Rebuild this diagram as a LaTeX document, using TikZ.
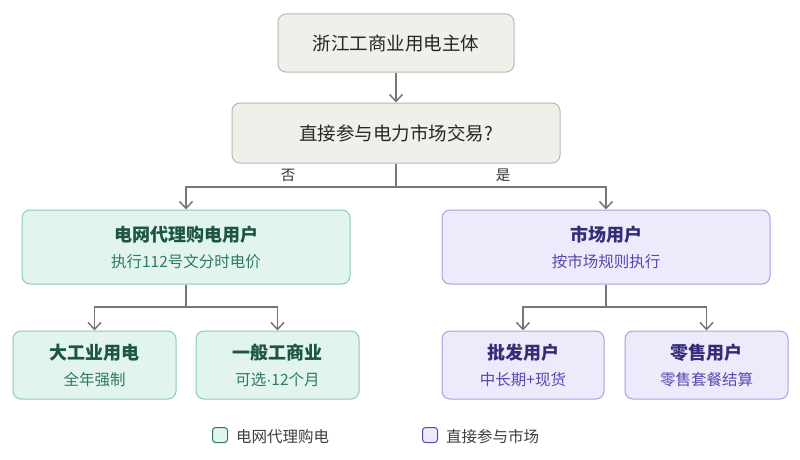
\documentclass[tikz,border=0pt]{standalone}
\usepackage{fontspec}
\setmainfont{Noto Sans CJK SC}
\newfontfamily\dotfont{Liberation Sans}
\usetikzlibrary{arrows.meta}
\definecolor{beigefill}{HTML}{F1EFE9}
\definecolor{beigeline}{HTML}{BDB8AF}
\definecolor{gridfill}{HTML}{E1F4EE}
\definecolor{gridline}{HTML}{8DCBB3}
\definecolor{gridtitle}{HTML}{1D5640}
\definecolor{gridsub}{HTML}{2F7A5E}
\definecolor{mktfill}{HTML}{ECEAFB}
\definecolor{mktline}{HTML}{A8A2E2}
\definecolor{mkttitle}{HTML}{332D78}
\definecolor{mktsub}{HTML}{5549B0}
\definecolor{wire}{HTML}{777777}
\newcommand{\boxtext}[2]{{\fontsize{18}{22}\selectfont\bfseries #1}\\[10pt]{\fontsize{15.5}{18}\selectfont #2}}
\begin{document}
\begin{tikzpicture}[x=1pt,y=-1pt,
  every node/.style={inner sep=0pt,align=center},
  askbox/.style={rectangle,rounded corners=8pt,draw=beigeline,fill=beigefill,line width=1pt,text=black!85,font=\fontsize{18.5}{22}\selectfont},
  gridbox/.style={rectangle,rounded corners=8pt,draw=gridline,fill=gridfill,line width=1pt,text=gridtitle},
  mktbox/.style={rectangle,rounded corners=8pt,draw=mktline,fill=mktfill,line width=1pt,text=mkttitle},
  arr/.style={draw=wire,line width=1.5pt,-{Straight Barb[length=7pt,width=13pt]}},
  wireline/.style={draw=wire,line width=1.5pt}]
\useasboundingbox[fill=white] (0,0) rectangle (800,460);
\node[askbox,minimum width=236pt,minimum height=58pt] (top) at (396,43) {浙江工商业用电主体};
\node[askbox,minimum width=328pt,minimum height=60pt] (ask) at (396,133) {直接参与电力市场交易?};
\node[gridbox,minimum width=328pt,minimum height=74pt] (grid) at (186,247) {\boxtext{电网代理购电用户}{\color{gridsub}执行112号文分时电价}};
\node[mktbox,minimum width=328pt,minimum height=74pt] (mkt) at (606,247) {\boxtext{市场用户}{\color{mktsub}按市场规则执行}};
\node[gridbox,minimum width=163pt,minimum height=68pt] (big) at (94.5,365) {\boxtext{大工业用电}{\color{gridsub}全年强制}};
\node[gridbox,minimum width=163pt,minimum height=68pt] (gen) at (277.5,365) {\boxtext{一般工商业}{\color{gridsub}可选{\dotfont·}12个月}};
\node[mktbox,minimum width=162pt,minimum height=68pt] (whole) at (523,365) {\boxtext{批发用户}{\color{mktsub}中长期+现货}};
\node[mktbox,minimum width=163pt,minimum height=68pt] (retail) at (706.5,365) {\boxtext{零售用户}{\color{mktsub}零售套餐结算}};
% tree
\coordinate (askjoin) at (396,187);
\coordinate (gridjoin) at (186,307);
\coordinate (mktjoin) at (606,307);
\draw[arr] (top) -- (ask);
\draw[wireline] (ask) -- (askjoin);
\draw[arr] (askjoin) -| (grid);
\draw[arr] (askjoin) -| (mkt);
\node[font=\fontsize{14.5}{16}\selectfont,text=black!80] (no) at (288,175) {否};
\node[font=\fontsize{14.5}{16}\selectfont,text=black!80] (yes) at (503,175) {是};
\draw[wireline] (grid) -- (gridjoin);
\draw[arr] (gridjoin) -| (big);
\draw[arr] (gridjoin) -| (gen);
\draw[wireline] (mkt) -- (mktjoin);
\draw[arr] (mktjoin) -| (whole);
\draw[arr] (mktjoin) -| (retail);
% legend
\node[rectangle,rounded corners=3pt,draw=gridsub,fill=gridfill,line width=1pt,minimum size=15pt] (keygrid) at (220,435) {};
\node[anchor=west,font=\fontsize{15.5}{18}\selectfont,text=black!75] (keygridtxt) at (236,437) {电网代理购电};
\node[rectangle,rounded corners=3pt,draw=mktsub,fill=mktfill,line width=1pt,minimum size=15pt] (keymkt) at (430,435) {};
\node[anchor=west,font=\fontsize{15.5}{18}\selectfont,text=black!75] (keymkttxt) at (446,437) {直接参与市场};
\end{tikzpicture}
\end{document}
